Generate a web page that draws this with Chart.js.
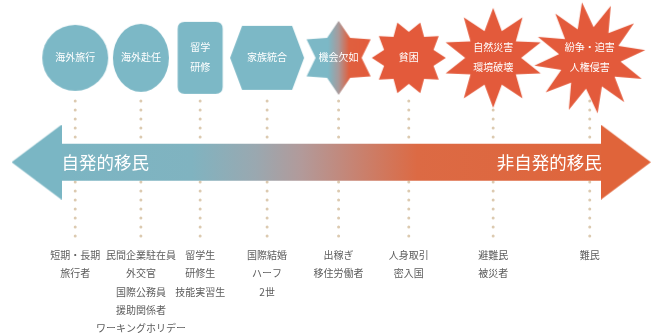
<!DOCTYPE html>
<html>
<head>
<meta charset="utf-8">
<script src="https://cdn.jsdelivr.net/npm/chart.js@4/dist/chart.umd.min.js"></script>
<style>
  html, body { margin: 0; padding: 0; background: #ffffff; }
  #wrap { width: 654px; height: 333px; }
</style>
</head>
<body>
<div id="wrap"><canvas id="c" width="654" height="333"></canvas></div>
<script>
// ---------------- DATA ----------------
// Causes of migration (shape labels), from voluntary (left) to involuntary (right)
const causes = [
  ['海外旅行'],
  ['海外赴任'],
  ['留学', '研修'],
  ['家族統合'],
  ['機会欠如'],
  ['貧困'],
  ['自然災害', '環境破壊'],
  ['紛争・迫害', '人権侵害']
];
// Position of each cause on the voluntary(0) -> involuntary(100) spectrum
const spectrum = [10.9, 21.1, 30.3, 40.7, 51.8, 62.7, 75.8, 90.8];
// Migrant types listed under each cause (x-axis tick labels)
const migrantTypes = [
  ['短期・長期', '旅行者'],
  ['民間企業駐在員', '外交官', '国際公務員', '援助関係者', 'ワーキングホリデー'],
  ['留学生', '研修生', '技能実習生'],
  ['国際結婚', 'ハーフ', '2世'],
  ['出稼ぎ', '移住労働者'],
  ['人身取引', '密入国'],
  ['避難民', '被災者'],
  ['難民']
];
// Arrow end labels and arrow-head positions on the spectrum
const arrowLabels = ['自発的移民', '非自発的移民'];
const arrowHeads = [4.9, 96.4];

// ---------------- LAYOUT / STYLE ----------------
const SHAPE_ROW = 54;
const ARROW_ROW = 160.5;
const DOT_TOP = 98, DOT_BOTTOM = 238;
const TEAL = '#7cb8c6';
const RED = '#e35a3b';
const ARROW_TEAL = '#7ab6c4';
const ARROW_ORANGE = '#e0643a';
const FONT = '"Noto Sans CJK JP", "Noto Sans", sans-serif';

const shapeStyles = [
  { kind: 'ellipse', rx: 33, ry: 33, color: TEAL },
  { kind: 'ellipse', rx: 28, ry: 34, color: TEAL },
  { kind: 'roundRect', w: 45, h: 72, r: 7, color: TEAL },
  { kind: 'hexagon', w: 74, h: 64, top: 50, color: TEAL },
  { kind: 'star', n: 6, outer: 37, inner: 23, start: 90, color: 'gradient' },
  { kind: 'star', n: 10, outer: 37, inner: 26, start: 0, color: RED },
  { kind: 'star', n: 10, outer: 50, inner: 28, start: 90, color: RED },
  { kind: 'star', n: 12, outer: 56, inner: 31, start: 98, color: RED }
];

function makeShape(s) {
  const ext = s.kind === 'star' ? s.outer : Math.max((s.rx || s.w / 2), (s.ry || s.h / 2));
  const size = Math.ceil(ext * 2 + 4);
  const cv = document.createElement('canvas');
  cv.width = size; cv.height = size;
  const g = cv.getContext('2d');
  const cx = size / 2, cy = size / 2;
  g.beginPath();
  if (s.kind === 'ellipse') {
    g.ellipse(cx, cy, s.rx, s.ry, 0, 0, Math.PI * 2);
  } else if (s.kind === 'roundRect') {
    const x = cx - s.w / 2, y = cy - s.h / 2, r = s.r;
    g.moveTo(x + r, y);
    g.lineTo(x + s.w - r, y); g.quadraticCurveTo(x + s.w, y, x + s.w, y + r);
    g.lineTo(x + s.w, y + s.h - r); g.quadraticCurveTo(x + s.w, y + s.h, x + s.w - r, y + s.h);
    g.lineTo(x + r, y + s.h); g.quadraticCurveTo(x, y + s.h, x, y + s.h - r);
    g.lineTo(x, y + r); g.quadraticCurveTo(x, y, x + r, y);
  } else if (s.kind === 'hexagon') {
    g.moveTo(cx - s.top / 2, cy - s.h / 2);
    g.lineTo(cx + s.top / 2, cy - s.h / 2);
    g.lineTo(cx + s.w / 2, cy);
    g.lineTo(cx + s.top / 2, cy + s.h / 2);
    g.lineTo(cx - s.top / 2, cy + s.h / 2);
    g.lineTo(cx - s.w / 2, cy);
  } else if (s.kind === 'star') {
    for (let k = 0; k < s.n * 2; k++) {
      const a = (s.start + k * 180 / s.n) * Math.PI / 180;
      const R = k % 2 === 0 ? s.outer : s.inner;
      const px = cx + R * Math.cos(a), py = cy - R * Math.sin(a);
      if (k === 0) g.moveTo(px, py); else g.lineTo(px, py);
    }
  }
  g.closePath();
  if (s.color === 'gradient') {
    const gr = g.createLinearGradient(cx - s.outer, 0, cx + s.outer, 0);
    gr.addColorStop(0, TEAL);
    gr.addColorStop(0.36, TEAL);
    gr.addColorStop(0.5, '#a99a9b');
    gr.addColorStop(0.64, '#e0603f');
    gr.addColorStop(1, RED);
    g.fillStyle = gr;
  } else {
    g.fillStyle = s.color;
  }
  g.fill();
  return cv;
}

function makeHead(dir, color) {
  const w = 50, h = 75;
  const cv = document.createElement('canvas');
  cv.width = w; cv.height = h;
  const g = cv.getContext('2d');
  g.beginPath();
  if (dir < 0) { g.moveTo(0, h / 2); g.lineTo(w, 0); g.lineTo(w, h); }
  else { g.moveTo(w, h / 2); g.lineTo(0, 0); g.lineTo(0, h); }
  g.closePath();
  g.fillStyle = color;
  g.fill();
  return cv;
}

const shapeCanvases = shapeStyles.map(makeShape);
const headCanvases = [makeHead(-1, ARROW_TEAL), makeHead(1, ARROW_ORANGE)];

function arrowGradient(context) {
  const chart = context.chart;
  const area = chart.chartArea;
  if (!area) return ARROW_TEAL;
  const g = chart.ctx.createLinearGradient(area.left, 0, area.right, 0);
  g.addColorStop(0, ARROW_TEAL);
  g.addColorStop(0.29, '#80b3c0');
  g.addColorStop(0.39, '#9aa8b0');
  g.addColorStop(0.46, '#b29a9a');
  g.addColorStop(0.54, '#c68474');
  g.addColorStop(0.64, '#dc6a44');
  g.addColorStop(1, ARROW_ORANGE);
  return g;
}

// ---------------- DATASETS ----------------
const dotDatasets = spectrum.map(v => ({
  type: 'line',
  data: [{ x: v, y: DOT_TOP }, { x: v, y: DOT_BOTTOM }],
  borderColor: '#dccab0',
  borderWidth: 3,
  borderDash: [0, 9],
  borderCapStyle: 'round',
  pointRadius: 0,
  fill: false,
  clip: false,
  order: 4
}));

const arrowBody = {
  type: 'line',
  data: [{ x: arrowHeads[0], y: ARROW_ROW }, { x: arrowHeads[1], y: ARROW_ROW }],
  borderColor: arrowGradient,
  borderWidth: 37,
  borderCapStyle: 'butt',
  pointRadius: 0,
  fill: false,
  clip: false,
  order: 3
};

const arrowHeadSet = {
  type: 'scatter',
  data: arrowHeads.map(v => ({ x: v, y: ARROW_ROW })),
  pointStyle: headCanvases,
  pointRadius: 5,
  pointBorderWidth: 0,
  clip: false,
  order: 2
};

const shapeSet = {
  type: 'scatter',
  data: spectrum.map(v => ({ x: v, y: SHAPE_ROW })),
  pointStyle: shapeCanvases,
  pointRadius: 5,
  pointBorderWidth: 0,
  clip: false,
  order: 1
};

const datasets = [...dotDatasets, arrowBody, arrowHeadSet, shapeSet];
const HEAD_INDEX = datasets.indexOf(arrowHeadSet);
const SHAPE_INDEX = datasets.indexOf(shapeSet);

// ---------------- TEXT PLUGIN ----------------
const textPlugin = {
  id: 'diagramText',
  afterDatasetsDraw(chart) {
    const ctx = chart.ctx;
    ctx.save();
    ctx.textBaseline = 'middle';
    ctx.textAlign = 'center';
    ctx.fillStyle = '#ffffff';
    ctx.font = '10px ' + FONT;
    const sm = chart.getDatasetMeta(SHAPE_INDEX);
    sm.data.forEach((el, i) => {
      const lines = causes[i];
      const lh = 19.5;
      lines.forEach((t, j) => {
        ctx.fillText(t, el.x, el.y + (j - (lines.length - 1) / 2) * lh - 0.5);
      });
    });
    const hm = chart.getDatasetMeta(HEAD_INDEX);
    const l = hm.data[0], r = hm.data[1];
    ctx.font = '17.5px ' + FONT;
    ctx.textAlign = 'left';
    ctx.fillText(arrowLabels[0], l.x + 25, l.y);
    ctx.textAlign = 'right';
    ctx.fillText(arrowLabels[1], r.x - 24, r.y);
    ctx.restore();
  }
};

// ---------------- CHART ----------------
new Chart(document.getElementById('c'), {
  type: 'scatter',
  data: { datasets },
  options: {
    responsive: false,
    animation: false,
    events: [],
    layout: { padding: 0 },
    plugins: { legend: { display: false }, tooltip: { enabled: false } },
    scales: {
      x: {
        type: 'linear',
        min: 0,
        max: 100,
        position: 'bottom',
        grid: { display: false, drawTicks: false, tickLength: 0 },
        border: { display: false },
        afterBuildTicks: (scale) => { scale.ticks = spectrum.map(v => ({ value: v })); },
        afterFit: (scale) => { scale.height = 93; },
        ticks: {
          autoSkip: false,
          maxRotation: 0,
          minRotation: 0,
          padding: 6,
          color: '#5c5c5c',
          font: { family: FONT, size: 10, lineHeight: 1.83 },
          callback: (value, index) => migrantTypes[index]
        }
      },
      y: {
        type: 'linear',
        display: false,
        min: 0,
        max: 240,
        reverse: true
      }
    }
  },
  plugins: [textPlugin]
});
</script>
</body>
</html>
